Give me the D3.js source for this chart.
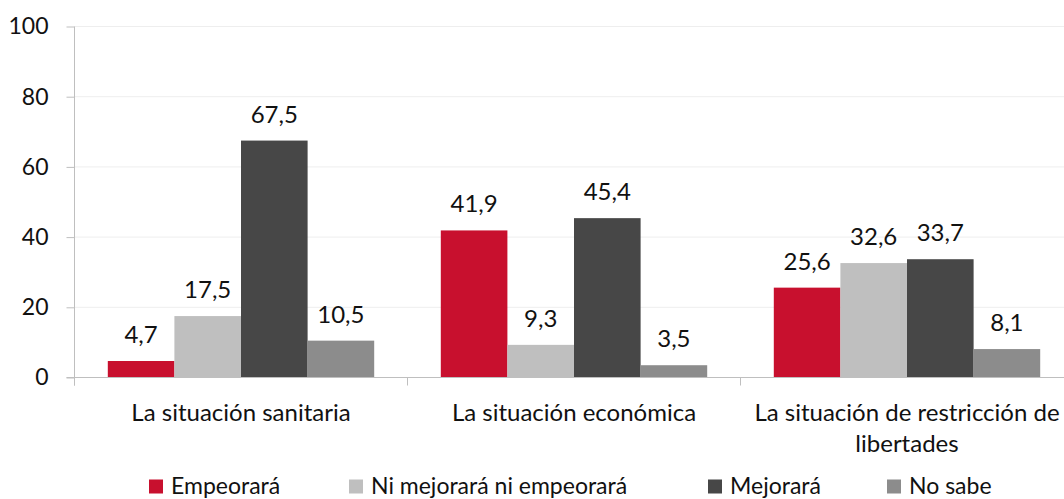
<!DOCTYPE html>
<html>
<head>
<meta charset="utf-8">
<script src="https://cdn.jsdelivr.net/npm/d3@7"></script>
<style>
  body { margin: 0; background: #fff; }
  svg { font-family: Lato, "Open Sans", sans-serif; }
</style>
</head>
<body>
<div id="chart"></div>
<script>
// categories and series
const categories = ["La situación sanitaria", "La situación económica", "La situación de restricción de libertades"];
const seriesNames = ["Empeorará", "Ni mejorará ni empeorará", "Mejorará", "No sabe"];
const empeorara = [4.7, 41.9, 25.6];
const niNi = [17.5, 9.3, 32.6];
const mejorara = [67.5, 45.4, 33.7];
const noSabe = [10.5, 3.5, 8.1];
const yTicks = [0, 20, 40, 60, 80, 100];

const colors = ["#c8102e", "#bfbfbf", "#474747", "#8c8c8c"];
const seriesValues = [empeorara, niNi, mejorara, noSabe];

let data = categories.map(function(c, i) {
  let row = {title: c};
  seriesNames.forEach(function(s, j) { row[s] = seriesValues[j][i]; });
  return row;
});

let margin = {top: 26.5, left: 74.5},
    width = 999,
    height = 351;

let svg = d3.select("#chart")
  .append("svg")
    .attr("width", 1064)
    .attr("height", 499);

let g = svg.append("g")
    .attr("transform", "translate(" + margin.left + "," + margin.top + ")");

let x = d3.scaleBand()
    .domain(categories)
    .range([0, width])
    .paddingInner(0)
    .paddingOuter(0);

let y = d3.scaleLinear()
    .domain([0, 100])
    .range([height, 0]);

let xSub = d3.scaleBand()
    .domain(seriesNames)
    .range([x.bandwidth() / 10, x.bandwidth() * 9 / 10])
    .padding(0);

// light gridlines
g.append("g")
  .selectAll("line")
  .data(yTicks.filter(function(d) { return d > 0; }))
  .enter().append("line")
    .attr("x1", 0)
    .attr("x2", width)
    .attr("y1", function(d) { return y(d); })
    .attr("y2", function(d) { return y(d); })
    .attr("stroke", "#eeeeee")
    .attr("stroke-width", 1);

// bars
let groups = g.append("g")
  .selectAll("g")
  .data(data)
  .enter().append("g")
    .attr("transform", function(d) { return "translate(" + x(d.title) + ",0)"; });

let items = groups.selectAll("g")
  .data(function(d) { return seriesNames.map(function(k, j) { return {key: k, value: d[k], idx: j}; }); })
  .enter().append("g");

items.append("rect")
    .attr("x", function(d) { return xSub(d.key); })
    .attr("y", function(d) { return y(d.value); })
    .attr("width", xSub.bandwidth())
    .attr("height", function(d) { return height - y(d.value); })
    .attr("fill", function(d) { return colors[d.idx]; });

items.append("text")
    .attr("x", function(d) { return xSub(d.key) + xSub.bandwidth() / 2; })
    .attr("y", function(d) { return y(d.value) - 18; })
    .attr("text-anchor", "middle")
    .attr("font-size", 24)
    .attr("fill", "#111")
    .text(function(d) { return String(d.value).replace(".", ","); });

// y axis
let yAxis = g.append("g")
    .call(d3.axisLeft(y).tickValues(yTicks).tickSize(8).tickPadding(18));
yAxis.select(".domain").attr("stroke", "#bfbfbf").attr("d", "M0," + (height + 8) + "V0");
yAxis.selectAll(".tick line").attr("stroke", "#bfbfbf");
yAxis.selectAll(".tick text").attr("font-size", 23).attr("fill", "#111").attr("font-family", "Lato, sans-serif");

// x axis
let xAxis = g.append("g")
    .attr("transform", "translate(0," + height + ")");
xAxis.append("line")
    .attr("x1", -8).attr("x2", width + 20)
    .attr("y1", 0).attr("y2", 0)
    .attr("stroke", "#bfbfbf");
xAxis.selectAll("line.sep")
  .data(categories.concat([null]))
  .enter().append("line")
    .attr("class", "sep")
    .attr("x1", function(d, i) { return i * x.step(); })
    .attr("x2", function(d, i) { return i * x.step(); })
    .attr("y1", 0).attr("y2", 8)
    .attr("stroke", "#bfbfbf");

let labelLines = [["La situación sanitaria"], ["La situación económica"], ["La situación de restricción de", "libertades"]];
xAxis.selectAll("text.cat")
  .data(categories)
  .enter().append("text")
    .attr("class", "cat")
    .attr("x", function(d) { return x(d) + x.bandwidth() / 2; })
    .attr("y", 43.5)
    .attr("text-anchor", "middle")
    .attr("font-size", 24)
    .attr("fill", "#111")
    .each(function(d, i) {
      let t = d3.select(this);
      labelLines[i].forEach(function(line, k) {
        t.append("tspan")
          .attr("x", x(d) + x.bandwidth() / 2)
          .attr("dy", k === 0 ? 0 : 30.5)
          .text(line);
      });
    });

// legend
let legendX = [149, 349, 708, 887];
let legend = svg.append("g")
  .selectAll("g")
  .data(seriesNames)
  .enter().append("g")
    .attr("transform", function(d, i) { return "translate(" + legendX[i] + ",479.5)"; });
legend.append("rect")
    .attr("width", 14).attr("height", 14)
    .attr("fill", function(d, i) { return colors[i]; });
legend.append("text")
    .attr("x", 22)
    .attr("y", 14)
    .attr("font-size", 23)
    .attr("fill", "#111")
    .text(function(d) { return d; });
</script>
</body>
</html>
